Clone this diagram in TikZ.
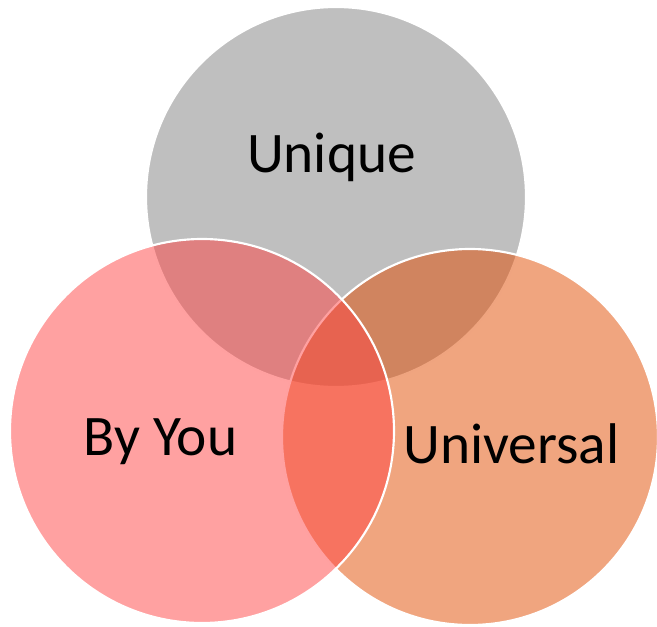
\documentclass[tikz,border=0pt]{standalone}
\usepackage{fontspec}
\setmainfont{Carlito}
\usepackage{tikz}

\tikzset{
    venn/.style={draw=white, line width=1.6pt, fill opacity=0.5},
    vennlabel/.style={anchor=base, font=\fontsize{43}{50}\selectfont, text=black, inner sep=0pt}
}
\definecolor{uniquegray}{RGB}{191,191,191}
\definecolor{byyoured}{RGB}{255,67,67}
\definecolor{universalorange}{RGB}{225,75,0}

\begin{document}
\begin{tikzpicture}[x=0.75pt, y=0.75pt]
            \useasboundingbox (0,0) rectangle (657,626);
            \coordinate (U) at (336,429);
            \coordinate (B) at (202,195);
            \coordinate (V) at (470,189);
            % circles: gray first, then orange, then red on top
            \filldraw[draw=white, line width=1.6pt, fill=uniquegray] (U) circle [radius=190];
            \filldraw[venn, fill=universalorange] (V) circle [radius=188];
            \filldraw[venn, fill=byyoured] (B) circle [radius=192];
            \node[vennlabel] (unique) at (331.5,453) {Unique};
            \node[vennlabel] (byyou) at (160.5,171) {By You};
            \node[vennlabel] (universal) at (511.5,163) {Universal};
        \end{tikzpicture}
\end{document}
